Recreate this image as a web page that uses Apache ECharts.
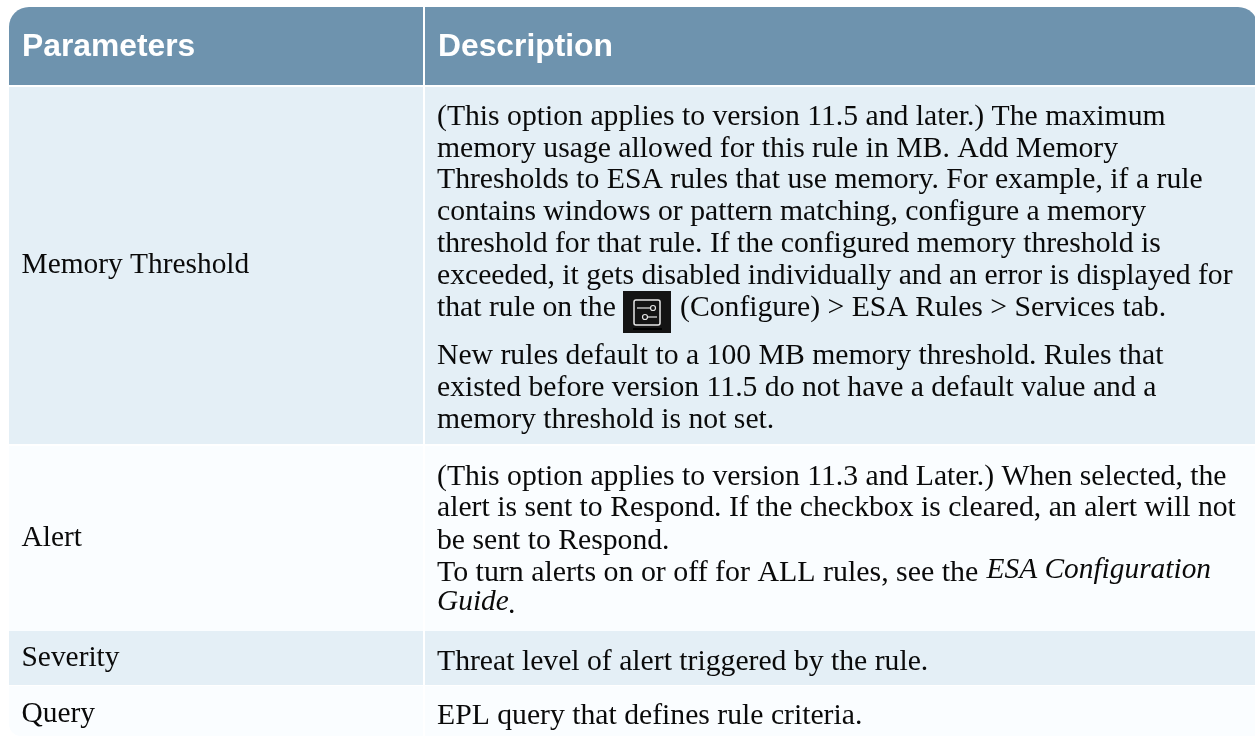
<!DOCTYPE html>
<html>
<head>
<meta charset="utf-8">
<title>ESA rule parameters</title>
<script src="https://cdn.jsdelivr.net/npm/echarts@6/dist/echarts.min.js"></script>
<style>
    html, body { margin: 0; padding: 0; background: #fff; }
    #main { width: 1255px; height: 736px; }
</style>
</head>
<body>
<div id="main"></div>
<script>
    var headers = ['Parameters', 'Description'];
    var parameters = ['Memory Threshold', 'Alert', 'Severity', 'Query'];
    var rowTops = [7, 87, 446, 631, 686];
    var rowBottoms = [85, 444, 631, 685, 736];
    var colLefts = [9, 425];
    var colRights = [423, 1258];

    var memoryLines = [
        '(This option applies to version 11.5 and later.) The maximum',
        'memory usage allowed for this rule in MB. Add Memory',
        'Thresholds to ESA rules that use memory. For example, if a rule',
        'contains windows or pattern matching, configure a memory',
        'threshold for that rule. If the configured memory threshold is',
        'exceeded, it gets disabled individually and an error is displayed for'
    ];
    var memoryIconLine = ['that rule on the', '(Configure) > ESA Rules > Services tab.'];
    var memoryNote = [
        'New rules default to a 100 MB memory threshold. Rules that',
        'existed before version 11.5 do not have a default value and a',
        'memory threshold is not set.'
    ];
    var alertLines = [
        '(This option applies to version 11.3 and Later.) When selected, the',
        'alert is sent to Respond. If the checkbox is cleared, an alert will not',
        'be sent to Respond.',
        'To turn alerts on or off for ALL rules, see the'
    ];
    var guideTitle = ['ESA Configuration', 'Guide'];
    var severityLines = ['Threat level of alert triggered by the rule.'];
    var queryLines = ['EPL query that defines rule criteria.'];

    var SERIF = '"Liberation Serif", "Times New Roman", serif';
    var HEADER_FONT = 'bold 31.8px "Liberation Sans", Arial, sans-serif';
    var BODY_FONT = '29.7px ' + SERIF;
    var PARAM_FONT = '29.4px ' + SERIF;
    var ITALIC_FONT = 'italic 29.4px ' + SERIF;
    var INK = '#0a0a0a';

    var textItems = [];
    function addText(x, y, text, font, fill) {
        textItems.push({x: x, y: y, text: text, font: font || BODY_FONT, fill: fill || INK});
    }
    function addLines(lines, y0, step) {
        lines.forEach(function (t, i) { addText(437, y0 + i * step, t); });
    }
    headers.forEach(function (h, i) {
        addText(colLefts[i] + 13, 47.5, h, HEADER_FONT, '#fff');
    });
    var paramY = [265.5, 538, 658, 714];
    parameters.forEach(function (p, i) { addText(21.5, paramY[i], p, PARAM_FONT); });

    addLines(memoryLines, 117, 31.8);
    addText(437, 308, memoryIconLine[0]);
    addText(680, 308, memoryIconLine[1]);
    addLines(memoryNote, 356, 32);
    addText(437, 477, alertLines[0]);
    addText(437, 508.5, alertLines[1]);
    addText(437, 541, alertLines[2]);
    addText(437, 573.3, alertLines[3], '29.92px ' + SERIF);
    addText(986.5, 570, guideTitle[0], ITALIC_FONT);
    addText(437, 602.3, guideTitle[1], ITALIC_FONT);
    addText(508, 605.5, '.');
    addLines(severityLines, 662, 32);
    addLines(queryLines, 716, 32);

    var myChart = echarts.init(document.getElementById('main'));
    var option = {
        animation: false,
        grid: {left: 0, right: 0, top: 0, bottom: 0},
        xAxis: {type: 'value', min: 0, max: 1255, show: false},
        yAxis: {type: 'value', min: 0, max: 736, inverse: true, show: false},
        series: [
            {
                // 表格底色
                type: 'custom',
                silent: true,
                coordinateSystem: 'cartesian2d',
                clip: false,
                data: rowTops.map(function (t, i) { return [t, rowBottoms[i], i]; }),
                renderItem: function (params, api) {
                    var i = api.value(2);
                    var fill = i === 0 ? '#6e93ae' : (i % 2 === 1 ? '#e4eff6' : '#fafdff');
                    var y0 = api.coord([0, api.value(0)])[1];
                    var y1 = api.coord([0, api.value(1)])[1];
                    var children = colLefts.map(function (l, c) {
                        var x0 = api.coord([l, 0])[0];
                        var x1 = api.coord([colRights[c], 0])[0];
                        var r = [0, 0, 0, 0];
                        if (i === 0 && c === 0) r = [20, 0, 0, 0];
                        if (i === 0 && c === 1) r = [0, 20, 0, 0];
                        if (i === 4 && c === 0) r = [0, 0, 0, 12];
                        return {
                            type: 'rect',
                            shape: {x: x0, y: y0, width: x1 - x0, height: y1 - y0, r: r},
                            style: {fill: fill}
                        };
                    });
                    return {type: 'group', children: children};
                }
            },
            {
                // 文字
                type: 'custom',
                silent: true,
                coordinateSystem: 'cartesian2d',
                z: 3,
                data: textItems.map(function (d, i) { return [d.x, d.y, i]; }),
                renderItem: function (params, api) {
                    var d = textItems[api.value(2)];
                    var p = api.coord([api.value(0), api.value(1)]);
                    return {
                        type: 'text',
                        x: p[0],
                        y: p[1],
                        style: {text: d.text, font: d.font, fill: d.fill, verticalAlign: 'middle'}
                    };
                }
            },
            {
                // Configure 图标
                type: 'custom',
                silent: true,
                coordinateSystem: 'cartesian2d',
                z: 4,
                data: [[623, 291]],
                renderItem: function (params, api) {
                    var p = api.coord([api.value(0), api.value(1)]);
                    var line = {stroke: '#e6e6e6', lineWidth: 1.2, fill: 'none'};
                    return {
                        type: 'group',
                        x: p[0],
                        y: p[1],
                        children: [
                            {type: 'rect', shape: {x: 0, y: 0, width: 48, height: 42}, style: {fill: '#141414'}},
                            {type: 'rect', shape: {x: 10, y: 37, width: 29, height: 2}, style: {fill: '#000'}},
                            {type: 'rect', shape: {x: 11, y: 9, width: 26, height: 25, r: 2}, style: {fill: 'none', stroke: '#e6e6e6', lineWidth: 1.5}},
                            {type: 'line', shape: {x1: 14, y1: 17, x2: 29, y2: 17}, style: line},
                            {type: 'circle', shape: {cx: 30, cy: 17, r: 2.5}, style: {fill: '#141414', stroke: '#e6e6e6', lineWidth: 1.2}},
                            {type: 'line', shape: {x1: 22, y1: 26, x2: 34, y2: 26}, style: line},
                            {type: 'circle', shape: {cx: 22, cy: 26, r: 2.5}, style: {fill: '#141414', stroke: '#e6e6e6', lineWidth: 1.2}}
                        ]
                    };
                }
            }
        ]
    };
    myChart.setOption(option);
</script>
</body>
</html>
